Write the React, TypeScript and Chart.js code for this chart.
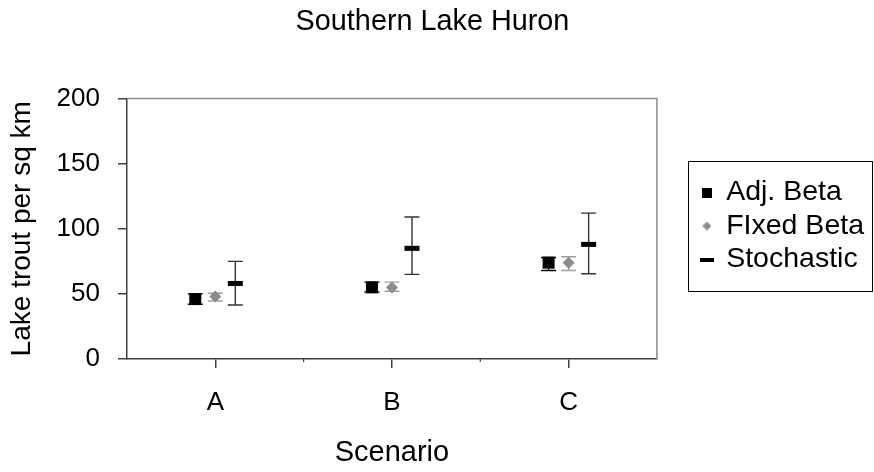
import React, { useEffect, useRef } from 'react';
import { Chart, registerables } from 'chart.js';

Chart.register(...registerables);

const categories = ['A', 'B', 'C'];
const seriesNames = ['Adj. Beta', 'FIxed Beta', 'Stochastic'];

const adjMean = [46, 55, 74];
const adjLow = [42, 51.5, 68];
const adjHigh = [50, 59, 78];

const fixedMean = [48, 55, 74];
const fixedLow = [44.5, 52, 68];
const fixedHigh = [50.5, 59, 78.5];

const stochMean = [58, 85, 88];
const stochLow = [41.5, 65, 65.5];
const stochHigh = [75, 109, 112];

const yTicks = [0, 50, 100, 150, 200];

const FONT = "'Liberation Sans', Arial, Helvetica, sans-serif";

type Marker = 'square' | 'diamond' | 'dash';

const drawMarker = (ctx: CanvasRenderingContext2D, kind: Marker, x: number, y: number, color: string) => {
  ctx.fillStyle = color;
  if (kind === 'square') {
    ctx.fillRect(x - 6, y - 6, 12, 12);
  } else if (kind === 'diamond') {
    ctx.beginPath();
    ctx.moveTo(x, y - 6);
    ctx.lineTo(x + 6, y);
    ctx.lineTo(x, y + 6);
    ctx.lineTo(x - 6, y);
    ctx.closePath();
    ctx.fill();
  } else {
    ctx.fillRect(x - 7.5, y - 2.5, 15, 5);
  }
};

const makeLegendIcon = (kind: Marker, color: string) => {
  const c = document.createElement('canvas');
  const w = kind === 'dash' ? 14 : kind === 'diamond' ? 9 : 10;
  const h = kind === 'dash' ? 4 : kind === 'diamond' ? 9 : 10;
  c.width = w;
  c.height = h;
  const g = c.getContext('2d')!;
  g.fillStyle = color;
  if (kind === 'diamond') {
    g.beginPath();
    g.moveTo(w / 2, 0);
    g.lineTo(w, h / 2);
    g.lineTo(w / 2, h);
    g.lineTo(0, h / 2);
    g.closePath();
    g.fill();
  } else {
    g.fillRect(0, 0, w, h);
  }
  return c;
};

const errorBarPlugin = {
  id: 'errorBars',
  afterDatasetsDraw(chart: any) {
    const ctx = chart.ctx as CanvasRenderingContext2D;
    const ys = chart.scales.y;
    chart.data.datasets.forEach((ds: any, i: number) => {
      const meta = chart.getDatasetMeta(i);
      meta.data.forEach((el: any, j: number) => {
        const x = el.x;
        const yc = ys.getPixelForValue(ds.data[j]);
        const yl = ys.getPixelForValue(ds.low[j]);
        const yh = ys.getPixelForValue(ds.high[j]);
        const cap = 7.5;
        ctx.save();
        ctx.strokeStyle = ds.errColor;
        ctx.lineWidth = 1.4;
        ctx.beginPath();
        ctx.moveTo(x, yh);
        ctx.lineTo(x, yl);
        ctx.moveTo(x - cap, yh);
        ctx.lineTo(x + cap, yh);
        ctx.moveTo(x - cap, yl);
        ctx.lineTo(x + cap, yl);
        ctx.stroke();
        drawMarker(ctx, ds.marker, x, yc, ds.markerColor);
        ctx.restore();
      });
    });
  },
};

const framePlugin = {
  id: 'frame',
  afterLayout(chart: any) {
    // fine-tune placement of the title and legend blocks
    if (chart.titleBlock) {
      chart.titleBlock.left -= 7;
      chart.titleBlock.right -= 7;
    }
    if (chart.legend) {
      chart.legend.top -= 9;
      chart.legend.bottom -= 9;
    }
  },
  beforeDatasetsDraw(chart: any) {
    const { ctx, chartArea } = chart;
    const xs = chart.scales.x;
    ctx.save();
    ctx.strokeStyle = '#8c8c8c';
    ctx.lineWidth = 1.5;
    ctx.beginPath();
    ctx.moveTo(chartArea.left, chartArea.top);
    ctx.lineTo(chartArea.right, chartArea.top);
    ctx.lineTo(chartArea.right, chartArea.bottom);
    ctx.stroke();
    // small boundary marks between categories on the x axis
    ctx.strokeStyle = '#404040';
    ctx.lineWidth = 1.2;
    ctx.beginPath();
    for (let i = 0; i < categories.length - 1; i++) {
      const bx = (xs.getPixelForTick(i) + xs.getPixelForTick(i + 1)) / 2;
      ctx.moveTo(bx, chartArea.bottom);
      ctx.lineTo(bx, chartArea.bottom + 3);
    }
    ctx.stroke();
    ctx.restore();
  },
};

const legendBoxPlugin = {
  id: 'legendBox',
  afterDraw(chart: any) {
    const lg = chart.legend;
    if (!lg || !lg.legendHitBoxes || !lg.legendHitBoxes.length) return;
    const hb = lg.legendHitBoxes;
    let l = Infinity, t = Infinity, r = -Infinity, b = -Infinity;
    hb.forEach((h: any) => {
      l = Math.min(l, h.left);
      t = Math.min(t, h.top);
      r = Math.max(r, h.left + h.width);
      b = Math.max(b, h.top + h.height);
    });
    const x0 = Math.round(l - 14) + 0.5;
    const y0 = Math.round(t - 17) + 0.5;
    const x1 = Math.min(Math.round(r + 13) + 0.5, chart.width - 1.5);
    const y1 = Math.round(b + 17) + 0.5;
    const ctx = chart.ctx;
    ctx.save();
    ctx.strokeStyle = '#000';
    ctx.lineWidth = 1;
    ctx.strokeRect(x0, y0, x1 - x0, y1 - y0);
    ctx.restore();
  },
};

export default function App() {
  const ref = useRef<HTMLCanvasElement | null>(null);

  useEffect(() => {
    if (!ref.current) return;
    const icons = [
      makeLegendIcon('square', '#000000'),
      makeLegendIcon('diamond', '#8c8c8c'),
      makeLegendIcon('dash', '#000000'),
    ];
    const mk = (label: string, data: number[], low: number[], high: number[], marker: Marker, markerColor: string, errColor: string) => ({
      label,
      data,
      low,
      high,
      marker,
      markerColor,
      errColor,
      yAxisID: 'y',
      backgroundColor: 'rgba(0,0,0,0)',
      borderWidth: 0,
    });
    const chart = new Chart(ref.current, {
      type: 'bar',
      data: {
        labels: categories,
        datasets: [
          mk(seriesNames[0], adjMean, adjLow, adjHigh, 'square', '#000000', '#000000'),
          mk(seriesNames[1], fixedMean, fixedLow, fixedHigh, 'diamond', '#8c8c8c', '#a0a0a0'),
          mk(seriesNames[2], stochMean, stochLow, stochHigh, 'dash', '#000000', '#333333'),
        ] as any,
      },
      options: {
        animation: false,
        responsive: false,
        maintainAspectRatio: false,
        categoryPercentage: 0.34,
        barPercentage: 1,
        layout: { padding: { left: 5, right: 0, top: 0, bottom: 2 } },
        plugins: {
          tooltip: { enabled: false },
          title: {
            display: true,
            text: 'Southern Lake Huron',
            color: '#000',
            font: { family: FONT, size: 28.8, weight: 'normal' },
            padding: { top: 5, bottom: 59 },
          },
          legend: {
            position: 'right',
            align: 'center',
            maxWidth: 240,
            labels: {
              color: '#000',
              font: { family: FONT, size: 28.5 },
              usePointStyle: true,
              boxWidth: 10,
              boxHeight: 10,
              padding: 5,
              generateLabels: () => [
                { text: seriesNames[0], fillStyle: '#000', strokeStyle: '#000', lineWidth: 0, pointStyle: icons[0], datasetIndex: 0, hidden: false },
                { text: seriesNames[1], fillStyle: '#8c8c8c', strokeStyle: '#8c8c8c', lineWidth: 0, pointStyle: icons[1], datasetIndex: 1, hidden: false },
                { text: seriesNames[2], fillStyle: '#000', strokeStyle: '#000', lineWidth: 0, pointStyle: icons[2], datasetIndex: 2, hidden: false },
              ] as any,
            },
            onClick: () => {},
          },
        },
        scales: {
          x: {
            type: 'category',
            offset: true,
            grid: {
              display: true,
              offset: false,
              drawOnChartArea: false,
              drawTicks: true,
              tickLength: 9,
              color: '#404040',
              lineWidth: 1.5,
            },
            border: { display: true, color: '#404040', width: 1.5 },
            ticks: { color: '#000', font: { family: FONT, size: 26 }, padding: 19 },
            title: {
              display: true,
              text: 'Scenario',
              color: '#000',
              font: { family: FONT, size: 29 },
              padding: { top: -2, bottom: 0 },
            },
          },
          y: {
            min: 0,
            max: 200,
            position: 'left',
            afterBuildTicks: (axis: any) => {
              axis.ticks = yTicks.map((v) => ({ value: v }));
            },
            grid: {
              display: true,
              drawOnChartArea: false,
              drawTicks: true,
              tickLength: 9,
              color: '#404040',
              lineWidth: 1.5,
            },
            border: { display: true, color: '#404040', width: 1.5 },
            ticks: { color: '#000', font: { family: FONT, size: 26 }, padding: 18 },
            title: {
              display: true,
              text: 'Lake trout per sq km',
              color: '#000',
              font: { family: FONT, size: 28 },
              padding: { top: 0, bottom: 0 },
            },
          },
          gap: {
            type: 'linear',
            position: 'right',
            display: true,
            grid: { display: false, drawTicks: false },
            border: { display: false },
            ticks: { display: false },
            afterFit: (s: any) => {
              s.width = 40;
            },
          },
        },
      },
      plugins: [framePlugin, errorBarPlugin, legendBoxPlugin],
    } as any);
    return () => chart.destroy();
  }, []);

  return (
    <div style={{ position: 'fixed', left: 0, top: 0, width: 874, height: 472, background: '#fff' }}>
      <canvas ref={ref} width={874} height={472} style={{ display: 'block', width: 874, height: 472 }} />
    </div>
  );
}
